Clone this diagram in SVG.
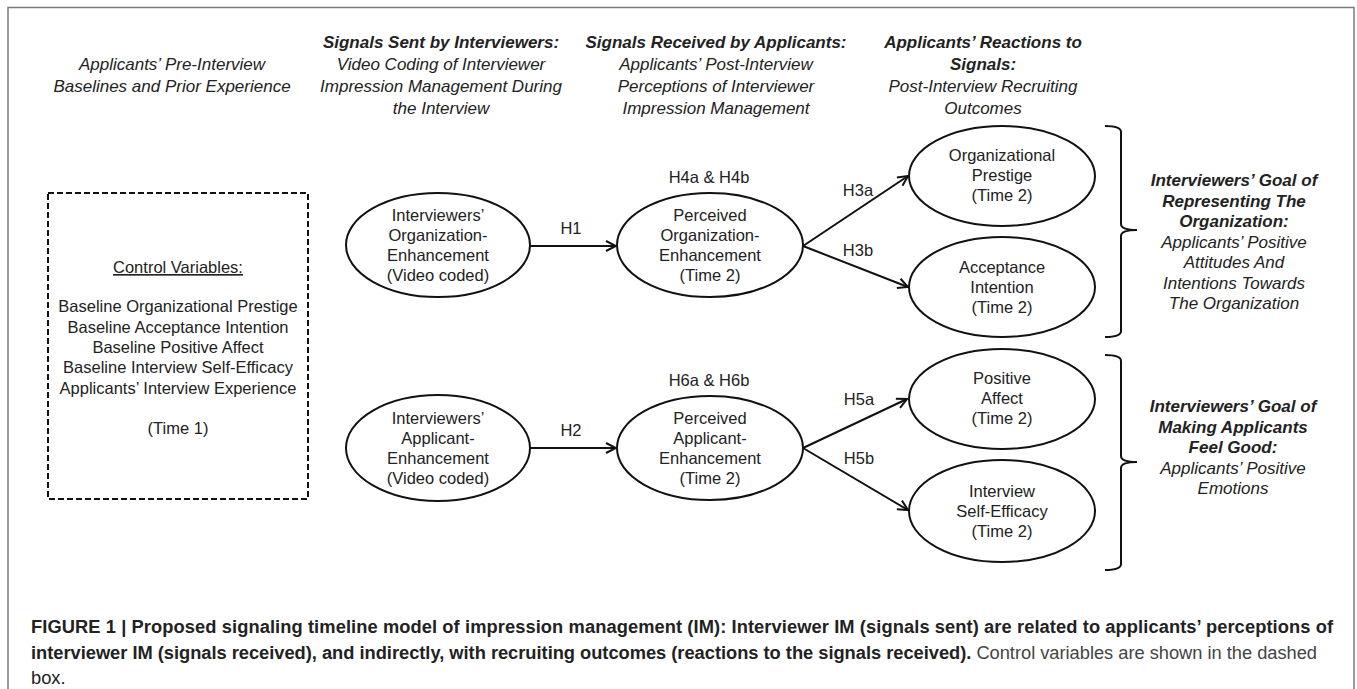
<svg xmlns="http://www.w3.org/2000/svg" width="1357" height="689" viewBox="0 0 1357 689">
<style>
text{font-family:"Liberation Sans",Arial,sans-serif;fill:#222}
.n{font-size:16.5px;text-anchor:middle}
.h{font-size:17px;text-anchor:middle;font-style:italic}
.hb{font-size:17px;text-anchor:middle;font-style:italic;font-weight:bold}
.cap{font-size:18.3px}
.el{fill:#fff;stroke:#111;stroke-width:2}
.ar{fill:none;stroke:#111;stroke-width:2}
.br{fill:none;stroke:#111;stroke-width:2}
</style>
<defs>
<marker id="arr" viewBox="0 0 12 12" refX="11" refY="6" markerWidth="12" markerHeight="12" markerUnits="userSpaceOnUse" orient="auto">
<path d="M1,1 L11,6 L1,11" fill="none" stroke="#111" stroke-width="2"/>
</marker>
</defs>
<rect width="1357" height="689" fill="#fff"/>
<path d="M8,690 V7.5 H1354 V690" fill="none" stroke="#7a7a7a" stroke-width="1.5"/>

<g id="headers">
<text class="h" x="172" y="70">Applicants’ Pre-Interview</text>
<text class="h" x="172" y="92">Baselines and Prior Experience</text>
<text class="hb" x="441" y="48">Signals Sent by Interviewers:</text>
<text class="h" x="441" y="70">Video Coding of Interviewer</text>
<text class="h" x="441" y="92">Impression Management During</text>
<text class="h" x="441" y="114">the Interview</text>
<text class="hb" x="716" y="48">Signals Received by Applicants:</text>
<text class="h" x="716" y="70">Applicants’ Post-Interview</text>
<text class="h" x="716" y="92">Perceptions of Interviewer</text>
<text class="h" x="716" y="114">Impression Management</text>
<text class="hb" x="983" y="48">Applicants’ Reactions to</text>
<text class="hb" x="983" y="70">Signals:</text>
<text class="h" x="983" y="92">Post-Interview Recruiting</text>
<text class="h" x="983" y="114">Outcomes</text>
</g>

<g id="connectors">
<line class="ar" x1="530" y1="246" x2="616" y2="246" marker-end="url(#arr)"/>
<line class="ar" x1="803" y1="246" x2="908" y2="176" marker-end="url(#arr)"/>
<line class="ar" x1="803" y1="246" x2="908" y2="287" marker-end="url(#arr)"/>
<line class="ar" x1="530" y1="448" x2="616" y2="448" marker-end="url(#arr)"/>
<line class="ar" x1="803" y1="448" x2="907" y2="399" marker-end="url(#arr)"/>
<line class="ar" x1="803" y1="448" x2="908" y2="510" marker-end="url(#arr)"/>
<text class="n" x="571" y="234">H1</text>
<text class="n" x="571" y="436">H2</text>
<text class="n" x="858" y="196">H3a</text>
<text class="n" x="858" y="256">H3b</text>
<text class="n" x="859" y="405">H5a</text>
<text class="n" x="859" y="464">H5b</text>
</g>

<g id="controls">
<rect x="48" y="193" width="260" height="306" fill="none" stroke="#111" stroke-width="2" stroke-dasharray="6,3"/>
<text class="n" x="178" y="273" text-decoration="underline">Control Variables:</text>
<text class="n" x="178" y="312">Baseline Organizational Prestige</text>
<text class="n" x="178" y="333">Baseline Acceptance Intention</text>
<text class="n" x="178" y="353">Baseline Positive Affect</text>
<text class="n" x="178" y="373">Baseline Interview Self-Efficacy</text>
<text class="n" x="178" y="394">Applicants’ Interview Experience</text>
<text class="n" x="178" y="434">(Time 1)</text>
</g>

<g id="io-enh">
<ellipse class="el" cx="438" cy="245" rx="92" ry="52"/>
<text class="n" x="438" y="221">Interviewers’</text>
<text class="n" x="438" y="241">Organization-</text>
<text class="n" x="438" y="261">Enhancement</text>
<text class="n" x="438" y="281">(Video coded)</text>
</g>

<g id="po-enh">
<text class="n" x="709" y="183">H4a &amp; H4b</text>
<ellipse class="el" cx="710" cy="245" rx="93" ry="52"/>
<text class="n" x="710" y="221">Perceived</text>
<text class="n" x="710" y="241">Organization-</text>
<text class="n" x="710" y="261">Enhancement</text>
<text class="n" x="710" y="281">(Time 2)</text>
</g>

<g id="ia-enh">
<ellipse class="el" cx="438" cy="448" rx="92" ry="53"/>
<text class="n" x="438" y="424">Interviewers’</text>
<text class="n" x="438" y="444">Applicant-</text>
<text class="n" x="438" y="464">Enhancement</text>
<text class="n" x="438" y="484">(Video coded)</text>
</g>

<g id="pa-enh">
<text class="n" x="709" y="386">H6a &amp; H6b</text>
<ellipse class="el" cx="710" cy="448" rx="93" ry="52"/>
<text class="n" x="710" y="424">Perceived</text>
<text class="n" x="710" y="444">Applicant-</text>
<text class="n" x="710" y="464">Enhancement</text>
<text class="n" x="710" y="484">(Time 2)</text>
</g>

<g id="org-prestige">
<ellipse class="el" cx="1002" cy="176" rx="93" ry="50"/>
<text class="n" x="1002" y="161">Organizational</text>
<text class="n" x="1002" y="181">Prestige</text>
<text class="n" x="1002" y="201">(Time 2)</text>
</g>

<g id="acceptance">
<ellipse class="el" cx="1002" cy="287" rx="93" ry="50"/>
<text class="n" x="1002" y="273">Acceptance</text>
<text class="n" x="1002" y="293">Intention</text>
<text class="n" x="1002" y="313">(Time 2)</text>
</g>

<g id="pos-affect">
<ellipse class="el" cx="1002" cy="399" rx="93" ry="50"/>
<text class="n" x="1002" y="384">Positive</text>
<text class="n" x="1002" y="404">Affect</text>
<text class="n" x="1002" y="424">(Time 2)</text>
</g>

<g id="self-efficacy">
<ellipse class="el" cx="1002" cy="511" rx="93" ry="51"/>
<text class="n" x="1002" y="497">Interview</text>
<text class="n" x="1002" y="517">Self-Efficacy</text>
<text class="n" x="1002" y="537">(Time 2)</text>
</g>

<g id="goal-org">
<path class="br" d="M1105,126 Q1121,126 1121,132 V224 Q1121,230 1137,230 Q1121,230 1121,236 V331 Q1121,337 1105,337"/>
<text class="hb" x="1234" y="186">Interviewers’ Goal of</text>
<text class="hb" x="1234" y="206.5">Representing The</text>
<text class="hb" x="1234" y="227">Organization:</text>
<text class="h" x="1234" y="247.5">Applicants’ Positive</text>
<text class="h" x="1234" y="268">Attitudes And</text>
<text class="h" x="1234" y="288.5">Intentions Towards</text>
<text class="h" x="1234" y="309">The Organization</text>
</g>

<g id="goal-feel">
<path class="br" d="M1105,355 Q1121,355 1121,361 V456 Q1121,462 1137,462 Q1121,462 1121,468 V564 Q1121,570 1105,570"/>
<text class="hb" x="1233" y="412">Interviewers’ Goal of</text>
<text class="hb" x="1233" y="432.5">Making Applicants</text>
<text class="hb" x="1233" y="453">Feel Good:</text>
<text class="h" x="1233" y="473.5">Applicants’ Positive</text>
<text class="h" x="1233" y="494">Emotions</text>
</g>

<g id="caption">
<text class="cap" x="31" y="633" font-weight="bold" textLength="1302" fill="#222">FIGURE 1 | Proposed signaling timeline model of impression management (IM): Interviewer IM (signals sent) are related to applicants’ perceptions of</text>
<text class="cap" x="31" y="659" textLength="1286"><tspan font-weight="bold" fill="#222">interviewer IM (signals received), and indirectly, with recruiting outcomes (reactions to the signals received).</tspan><tspan fill="#444"> Control variables are shown in the dashed</tspan></text>
<text class="cap" x="31" y="684" fill="#444">box.</text>
</g>
</svg>
